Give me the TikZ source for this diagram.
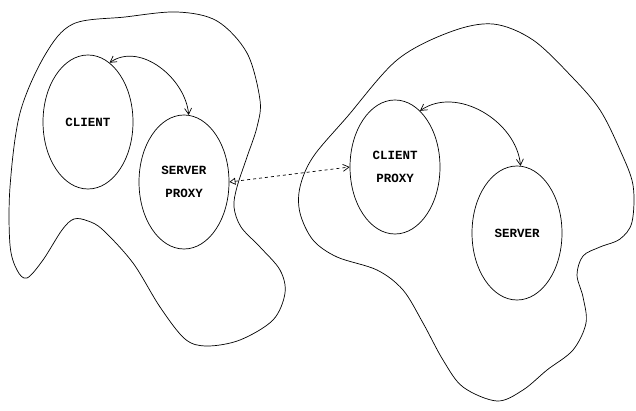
\documentclass[tikz,border=0pt]{standalone}
\usepackage{fontspec}
\setmonofont{Liberation Mono}
\usetikzlibrary{shapes.geometric,arrows.meta}

\begin{document}
\begin{tikzpicture}[x=1pt,y=-1pt,line width=0.7pt,
  proc/.style={draw,ellipse,minimum width=90pt,minimum height=134pt,inner sep=0pt,
    align=center,font=\ttfamily\bfseries\fontsize{12.5}{23}\selectfont},
  call/.style={{Straight Barb[angle=60:7pt]}-{Straight Barb[angle=60:7pt]}},
  link/.style={dashed,{Triangle[open,angle=60:7pt]}-{Straight Barb[angle=60:7pt]}}]
\useasboundingbox (0,0) rectangle (636,411);
% left host
\draw plot[smooth cycle,tension=0.55] coordinates {
  (73,24) (125,17) (177,12) (217,21) (247,53) (260,100) (257,127) (247,157)
  (237,187) (234,207) (241,227) (260,247) (280,270) (285,293) (273,320)
  (240,340) (207,346) (185,339) (160,307) (133,263) (103,230) (88,221)
  (74,219) (62,230) (43,260) (27,278) (17,270) (10,245) (10,187) (20,113) (45,55)};
% right host
\draw plot[smooth cycle,tension=0.55] coordinates {
  (493,24) (533,40) (573,78) (600,110) (620,150) (633,185) (632,222)
  (620,239) (600,247) (583,256) (577,275) (583,297) (586,323) (573,350)
  (547,370) (523,390) (497,401) (463,387) (443,360) (423,323) (403,290)
  (377,270) (337,257) (313,240) (300,213) (300,187) (313,157) (347,117)
  (397,60) (450,32)};
\node[proc] (client) at (88,122) {CLIENT};
\node[proc] (sproxy) at (184,182) {SERVER\\PROXY};
\node[proc] (cproxy) at (395,167) {CLIENT\\PROXY};
\node[proc] (server) at (517,233) {SERVER};
\draw[call] (client.70) to[out=35,in=95] (sproxy.86);
\draw[call] (cproxy.66) to[out=35,in=95] (server.87);
\draw[link] (sproxy.east) -- (cproxy.west);
\end{tikzpicture}
\end{document}
